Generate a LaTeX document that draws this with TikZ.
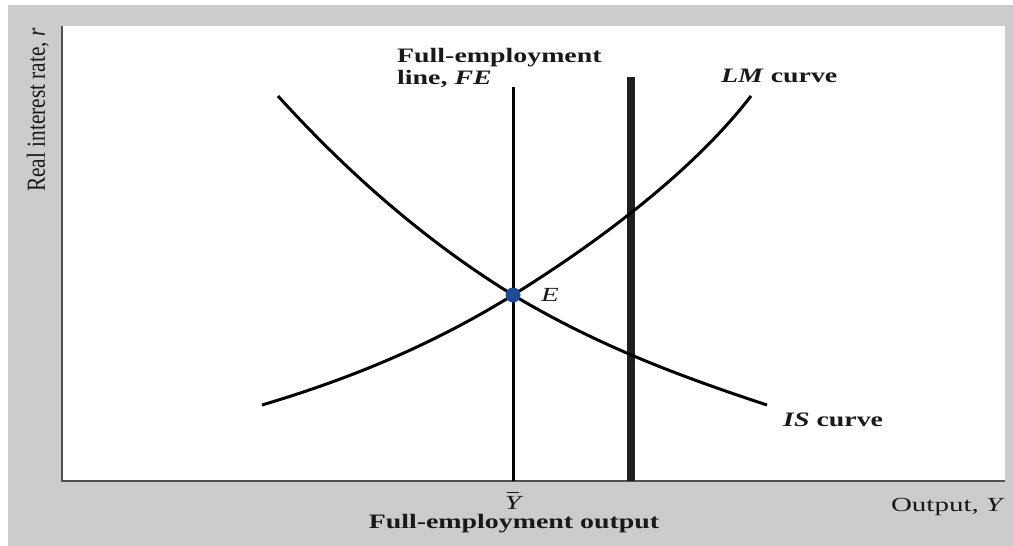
\documentclass[tikz,border=0pt]{standalone}
\usepackage{fontspec}
\setmainfont{Liberation Serif}
\newfontfamily\lblfont[FakeStretch=1.36]{Liberation Serif}
\newfontfamily\regfont[FakeStretch=1.45]{Liberation Serif}
\newfontfamily\axfont[FakeStretch=0.82]{Liberation Serif}
\definecolor{bggray}{RGB}{204,204,204}
\definecolor{axisgray}{RGB}{80,80,80}
\definecolor{dotblue}{RGB}{30,75,150}
\tikzset{
  lbl/.style={inner sep=0pt, font=\lblfont\fontsize{20.5}{22}\selectfont\bfseries, text=black!90},
  reglbl/.style={inner sep=0pt, font=\regfont\fontsize{20}{22}\selectfont, text=black!90},
  curve/.style={line width=3pt, black},
  axisline/.style={line width=1.8pt, axisgray},
}
\begin{document}
\begin{tikzpicture}[x=1pt,y=-1pt]
\useasboundingbox (0,0) rectangle (1013,546);
\fill[white] (0,0) rectangle (1013,546);
\fill[bggray] (8,5) rectangle (1013,546);
\fill[white] (62,26) rectangle (1005,481);
% axes
\coordinate (O) at (62,481);
\coordinate (ytop) at (62,26);
\coordinate (xend) at (1005,481);
\draw[axisline] (ytop) -- (O) -- (xend);
% FE line
\coordinate (fetop) at (513,87);
\coordinate (febot) at (513,481);
\draw[line width=3pt] (fetop) -- (febot);
% thick vertical line
\coordinate (vtop) at (631,77);
\coordinate (vbot) at (631,481);
\draw[line width=8pt, black!88] (vtop) -- (vbot);
% equilibrium point
\coordinate (E) at (513,295);
% IS curve
\coordinate (isstart) at (278,96);
\coordinate (isend) at (767,405);
\draw[curve] (isstart) .. controls (356,182) and (435,247) .. (E)
  .. controls (598,346) and (682,377) .. (isend);
% LM curve
\coordinate (lmstart) at (262,405);
\coordinate (lmend) at (751,96);
\draw[curve] (lmstart) .. controls (346,380) and (429,347) .. (E)
  .. controls (592,246) and (691,174) .. (lmend);
% equilibrium dot
\fill[dotblue] (E) circle (7.5pt);
\node[reglbl, anchor=base west] (elbl) at (541,301) {\itshape E};
% labels
\node[lbl, anchor=base west] (fe1) at (397,62) {Full-employment};
\node[lbl, anchor=base west] (fe2) at (397,84) {line, \textit{FE}};
\node[lbl, anchor=base west] (lm) at (721,82) {\textit{LM} curve};
\node[lbl, anchor=base west] (is) at (783,426) {\textit{IS} curve};
\node[reglbl, anchor=base] (ybar) at (513,509) {\itshape Y};
\draw[line width=1.2pt, black!90] ([xshift=-6pt,yshift=3pt]ybar.north) -- ([xshift=6pt,yshift=3pt]ybar.north);
\node[lbl, anchor=base] (feout) at (514,528) {Full-employment output};
\node[reglbl, anchor=base east] (xlbl) at (1005,511) {Output, \textit{Y}};
\node[inner sep=0pt, font=\axfont\fontsize{26}{28}\selectfont, text=black!90, rotate=90, anchor=base] (ylbl) at (45,110) {Real interest rate, \textit{r}};
\end{tikzpicture}
\end{document}
